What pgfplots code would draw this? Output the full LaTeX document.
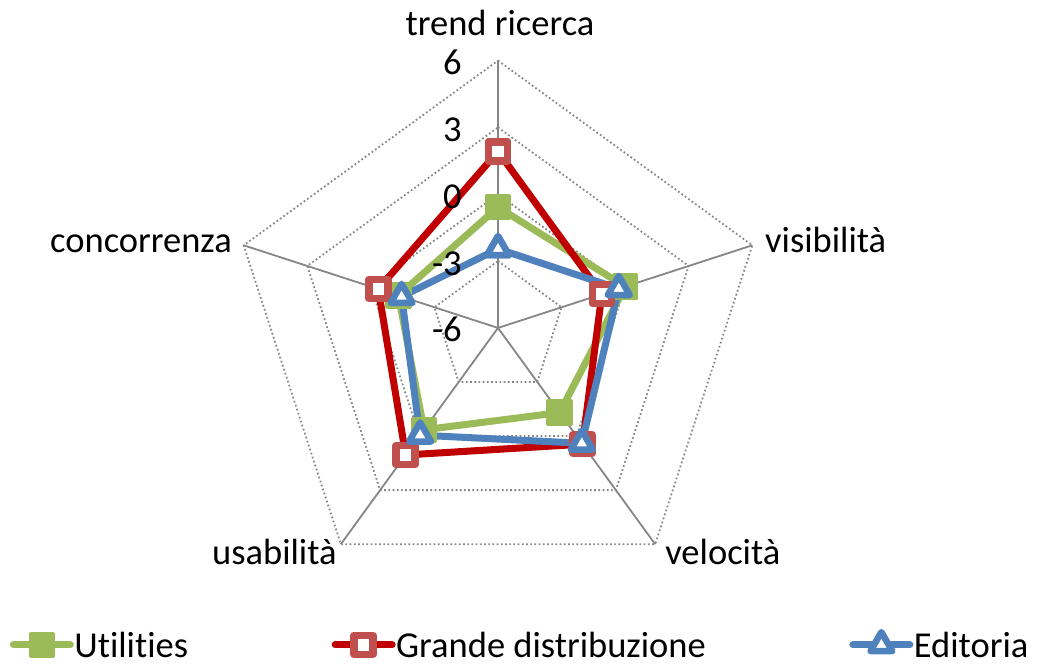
\documentclass[border=0pt]{standalone}
\usepackage{fontspec}
\setmainfont{Carlito}[Ligatures=NoCommon]
\usepackage{pgfplots}
\usepackage{pgfplotstable}
\pgfplotsset{compat=1.18}

\definecolor{ugreen}{HTML}{9BBB59}
\definecolor{gline}{HTML}{C00000}
\definecolor{gmark}{HTML}{C0504D}
\definecolor{eblue}{HTML}{4F81BD}
\definecolor{gridgray}{HTML}{868686}

% a = direction of the category (degrees), values per series
\pgfplotstableread{
a    u      g      e
90   -0.58  1.92   -2.45
18   0.00   -1.10  -0.30
-54  -1.30  0.45   0.40
-126 -0.35  1.05   -0.05
162  -1.30  -0.35  -1.45
90   -0.58  1.92   -2.45
}\radar

\begin{document}
\begin{tikzpicture}[font=\fontsize{36.5}{44}\selectfont]
\begin{axis}[
  width=1037pt, height=667pt, scale only axis,
  xmin=-22.35, xmax=24.19, ymin=-15.22, ymax=14.72,
  hide axis, clip=false,
  legend columns=3,
  legend image code/.code={\draw[mark repeat=2,mark phase=2,#1] plot coordinates {(0pt,0pt) (28.5pt,0pt) (57pt,0pt)};},
  legend style={draw=none, fill=none, font=\fontsize{36.5}{44}\selectfont,
    at={(rel axis cs:0.0095,0.0135)}, anchor=south west,
    inner sep=0pt, outer sep=0pt,
    nodes={inner sep=0.5pt, text depth=0pt},
    /tikz/every even column/.append style={column sep=143pt}},
]
\coordinate (BL) at (rel axis cs:0,0);
\coordinate (TR) at (rel axis cs:1,1);
% rings
\pgfplotsinvokeforeach{3,6,9,12}{
  \draw[gridgray, line width=1.8pt, dash pattern=on 1.7pt off 2.5pt]
    (axis cs:0,#1) -- (axis cs:{#1*cos(18)},{#1*sin(18)})
    -- (axis cs:{#1*cos(-54)},{#1*sin(-54)})
    -- (axis cs:{#1*cos(-126)},{#1*sin(-126)})
    -- (axis cs:{#1*cos(162)},{#1*sin(162)}) -- cycle;
}
% spokes
\pgfplotsinvokeforeach{90,18,-54,-126,162}{
  \draw[gridgray, line width=1.8pt] (axis cs:0,0) -- (axis cs:{12*cos(#1)},{12*sin(#1)});
}
% series
\addplot[ugreen, line width=7pt, line join=round, line cap=round,
  mark=square*, mark size=11.5pt,
  mark options={fill=ugreen, draw=ugreen, line width=3.5pt, line join=round}]
  table[x expr={(\thisrow{u}+6)*cos(\thisrow{a})}, y expr={(\thisrow{u}+6)*sin(\thisrow{a})}] {\radar};
\addplot[gline, line width=7pt, line join=round, line cap=round,
  mark=square*, mark size=9.5pt,
  mark options={fill=white, draw=gmark, line width=7.5pt, line join=round}]
  table[x expr={(\thisrow{g}+6)*cos(\thisrow{a})}, y expr={(\thisrow{g}+6)*sin(\thisrow{a})}] {\radar};
\addplot[eblue, line width=7pt, line join=round, line cap=round,
  mark=triangle*, mark size=12.7pt,
  mark options={fill=white, draw=eblue, line width=6.5pt, line join=round}]
  table[x expr={(\thisrow{e}+6)*cos(\thisrow{a})}, y expr={(\thisrow{e}+6)*sin(\thisrow{a})}] {\radar};
\legend{Utilities, Grande distribuzione\hspace{8pt}, Editoria}
% radial tick labels
\node[anchor=base east, inner sep=0pt] at (axis cs:-1.62,11.37) {6};
\node[anchor=base east, inner sep=0pt] at (axis cs:-1.62,8.37) {3};
\node[anchor=base east, inner sep=0pt] at (axis cs:-1.62,5.37) {0};
\node[anchor=base east, inner sep=0pt] at (axis cs:-1.62,2.37) {-3};
\node[anchor=base east, inner sep=0pt] at (axis cs:-1.62,-0.63) {-6};
% category labels
\node[anchor=base, inner sep=0pt] at (axis cs:0.09,13.11) {trend ricerca};
\node[anchor=base west, inner sep=0pt] at (axis cs:11.98,3.37) {visibilità};
\node[anchor=base west, inner sep=0pt] at (axis cs:7.50,-10.64) {velocità};
\node[anchor=base east, inner sep=0pt] at (axis cs:-7.23,-10.64) {usabilità};
\node[anchor=base east, inner sep=0pt] at (axis cs:-11.94,3.37) {concorrenza};
\end{axis}
\pgfresetboundingbox
\path (BL) rectangle (TR);
\end{tikzpicture}
\end{document}
